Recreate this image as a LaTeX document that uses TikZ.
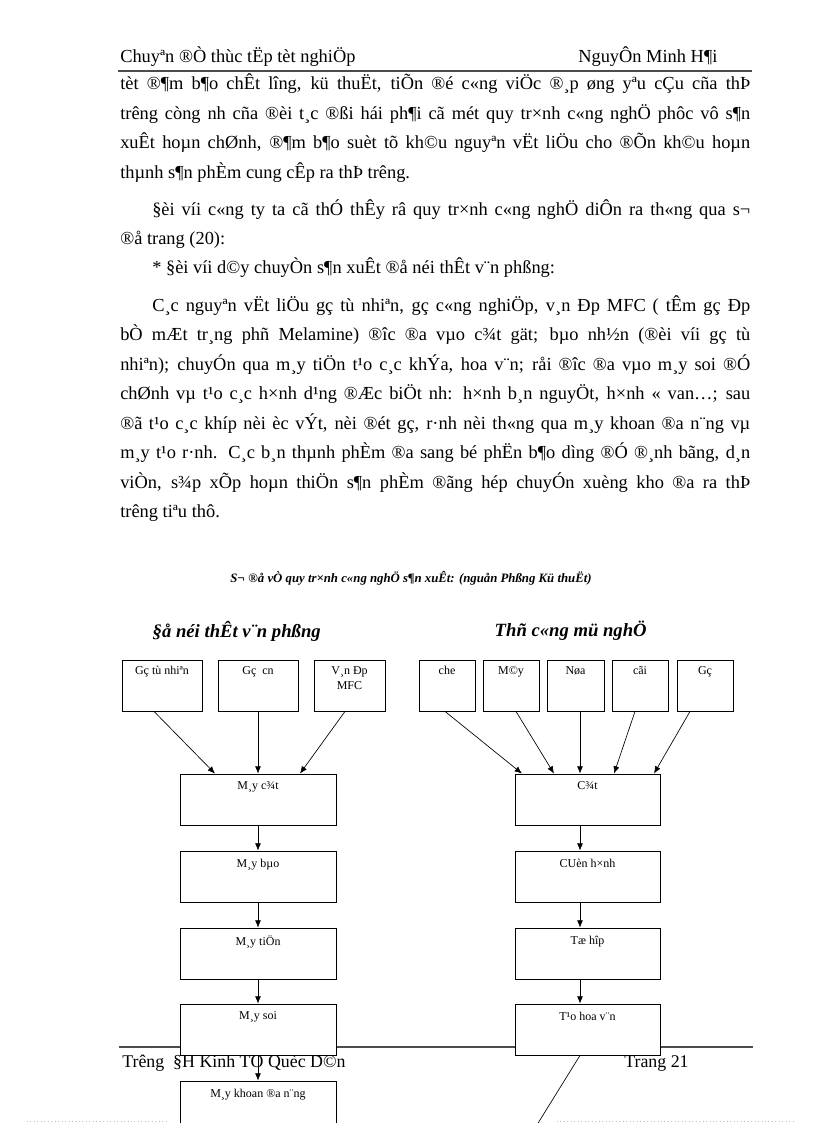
\documentclass[tikz,border=0pt]{standalone}
\usepackage{fontspec}
\setmainfont{Liberation Serif}
\usetikzlibrary{positioning,calc,arrows.meta}

\newcommand{\bodysize}{\fontsize{13.8}{16}\selectfont}
\newcommand{\boxsize}{\fontsize{9}{11}\selectfont}
\newcommand{\fullline}[2]{\hbox to #1{#2}}

\begin{document}
\begin{tikzpicture}[x=0.75pt, y=-0.75pt,
    txt/.style={anchor=base west, inner sep=0pt, font=\bodysize},
    rule/.style={line width=1.1pt, black!70},
    stepbox/.style={draw, fill=white, line width=0.6pt, minimum height=38.25pt, inner sep=0pt},
    boxlbl/.style={anchor=north, yshift=-6pt, inner sep=0pt, font=\boxsize, align=center},
    arr/.style={-{Latex[length=5.5pt,width=4.5pt]}, line width=0.5pt}]
    % Page
    \useasboundingbox (0,0) rectangle (816,1123);
    \fill[white] (0,0) rectangle (816,1123);

    % Header
    \node[txt] (headl) at (120,63) {Chuyªn ®Ò thùc tËp tèt nghiÖp};
    \node[txt] (headr) at (578,63) {NguyÔn Minh H¶i};
    \draw[rule] (118,71) -- (752,71);

    % Body text
    \node[txt] (l1) at (120,90) {\fullline{472.5pt}{tèt ®¶m b¶o chÊt lîng, kü thuËt, tiÕn ®é c«ng viÖc ®¸p øng yªu cÇu cña thÞ}};
    \node[txt] (l2) at (120,119.5) {\fullline{472.5pt}{trêng còng nh cña ®èi t¸c ®ßi hái ph¶i cã mét quy tr×nh c«ng nghÖ phôc vô s¶n}};
    \node[txt] (l3) at (120,149) {\fullline{472.5pt}{xuÊt hoµn chØnh, ®¶m b¶o suèt tõ kh©u nguyªn vËt liÖu cho ®Õn kh©u hoµn}};
    \node[txt] (l4) at (120,178.5) {thµnh s¶n phÈm cung cÊp ra thÞ trêng.};
    \node[txt] (l5) at (152,216) {\fullline{448.5pt}{§èi víi c«ng ty ta cã thÓ thÊy râ quy tr×nh c«ng nghÖ diÔn ra th«ng qua s¬}};
    \node[txt] (l6) at (120,244) {®å trang (20):};
    \node[txt] (l7) at (152,273) {* §èi víi d©y chuyÒn s¶n xuÊt ®å néi thÊt v¨n phßng:};
    \node[txt] (l8) at (152,311) {\fullline{448.5pt}{C¸c nguyªn vËt liÖu gç tù nhiªn, gç c«ng nghiÖp, v¸n Ðp MFC ( tÊm gç Ðp}};
    \node[txt] (l9) at (120,340.5) {\fullline{472.5pt}{bÒ mÆt tr¸ng phñ Melamine) ®îc ®a vµo c¾t gät; bµo nh½n (®èi víi gç tù}};
    \node[txt] (l10) at (120,370) {\fullline{472.5pt}{nhiªn); chuyÓn qua m¸y tiÖn t¹o c¸c khÝa, hoa v¨n; råi ®îc ®a vµo m¸y soi ®Ó}};
    \node[txt] (l11) at (120,399.5) {\fullline{472.5pt}{chØnh vµ t¹o c¸c h×nh d¹ng ®Æc biÖt nh: h×nh b¸n nguyÖt, h×nh « van…; sau}};
    \node[txt] (l12) at (120,429) {\fullline{472.5pt}{®ã t¹o c¸c khíp nèi èc vÝt, nèi ®ét gç, r·nh nèi th«ng qua m¸y khoan ®a n¨ng vµ}};
    \node[txt] (l13) at (120,458.5) {\fullline{472.5pt}{m¸y t¹o r·nh. C¸c b¸n thµnh phÈm ®a sang bé phËn b¶o dìng ®Ó ®¸nh bãng, d¸n}};
    \node[txt] (l14) at (120,488) {\fullline{472.5pt}{viÒn, s¾p xÕp hoµn thiÖn s¶n phÈm ®ãng hép chuyÓn xuèng kho ®a ra thÞ}};
    \node[txt] (l15) at (120,517.5) {trêng tiªu thô.};

    % Caption and column titles
    \node[font=\bfseries\itshape\fontsize{9.6}{12}\selectfont] (caption) at (411,578) {S¬ ®å vÒ quy tr×nh c«ng nghÖ s¶n xuÊt: (nguån Phßng Kü thuËt)};
    \node[anchor=west, font=\bfseries\itshape\fontsize{14}{16}\selectfont] (titlel) at (148,631) {§å néi thÊt v¨n phßng};
    \node[anchor=west, font=\bfseries\itshape\fontsize{14}{16}\selectfont] (titler) at (490,631) {Thñ c«ng mü nghÖ};

    % Footer
    \draw[rule] (119,1047) -- (753,1047);
    \node[txt, font=\fontsize{13.4}{16}\selectfont] (footl) at (122,1067) {Trêng~~§H Kinh TÕ Quèc D©n};
    \node[txt, font=\fontsize{13.4}{16}\selectfont] (footr) at (624,1067) {Trang 21};
    \draw[black!25, dotted, line width=0.6pt] (27,1121) -- (168,1121);
    \draw[black!25, dotted, line width=0.6pt] (557,1121) -- (795,1121);

    % Raw materials, left line
    \node[stepbox, minimum width=60pt, label={[boxlbl, yshift=1pt]north:Gç tù nhiªn}] (gotn) at (162,685.5) {};
    \node[stepbox, minimum width=60pt, label={[boxlbl, yshift=1pt]north:Gç~~cn}] (gocn) at (258,685.5) {};
    \node[stepbox, minimum width=53.25pt, label={[boxlbl, yshift=1pt]north:V¸n Ðp\\MFC}] (vanep) at (349.5,685.5) {};

    % Raw materials, right line
    \node[stepbox, minimum width=42pt, label={[boxlbl, yshift=1pt]north:che}] (che) at (447,685.5) {};
    \node[stepbox, minimum width=42pt, label={[boxlbl, yshift=1pt]north:M©y}] (may) at (511,685.5) {};
    \node[stepbox, minimum width=42.75pt, label={[boxlbl, yshift=1pt]north:Nøa}] (nua) at (575.5,685.5) {};
    \node[stepbox, minimum width=42pt, label={[boxlbl, yshift=1pt]north:cãi}] (coi) at (640,685.5) {};
    \node[stepbox, minimum width=42pt, label={[boxlbl, yshift=1pt]north:Gç}] (go) at (705,685.5) {};

    % Machines, left line
    \node[stepbox, minimum width=117pt, label={[boxlbl]north:M¸y c¾t}] (maycat) at (258,799.5) {};
    \node[stepbox, minimum width=117pt, label={[boxlbl]north:M¸y bµo}] (maybao) at (258,876.5) {};
    \node[stepbox, minimum width=117pt, label={[boxlbl]north:M¸y tiÖn}] (maytien) at (258,953.5) {};
    \node[stepbox, minimum width=117pt, label={[boxlbl]north:M¸y soi}] (maysoi) at (258,1029.5) {};
    \node[stepbox, minimum width=117pt, label={[boxlbl]north:M¸y khoan ®a n¨ng}] (maykhoan) at (258,1106.5) {};

    % Steps, right line
    \node[stepbox, minimum width=108.75pt, label={[boxlbl]north:C¾t}] (cat) at (587.5,799.5) {};
    \node[stepbox, minimum width=108.75pt, label={[boxlbl]north:CUèn h×nh}] (cuon) at (587.5,876.5) {};
    \node[stepbox, minimum width=108.75pt, label={[boxlbl]north:Tæ hîp}] (tohop) at (587.5,953.5) {};
    \node[stepbox, minimum width=108.75pt, label={[boxlbl]north:T¹o hoa v¨n}] (taohoa) at (587.5,1029.5) {};

    % Inputs into the first machines
    \draw[arr] ($(gotn.south)+(-8,0)$) -- ($(maycat.north)+(-43,0)$);
    \draw[arr] (gocn.south) -- (maycat.north);
    \draw[arr] ($(vanep.south)+(-4.5,0)$) -- ($(maycat.north)+(42,0)$);
    \draw[arr] ($(che.south)+(-2,0)$) -- ($(cat.north)+(-65.5,0)$);
    \draw[arr] ($(may.south)+(5,0)$) -- ($(cat.north)+(-33.5,0)$);
    \draw[arr] ($(nua.south)+(4.5,0)$) -- ($(cat.north)+(-7.5,0)$);
    \draw[arr] ($(coi.south)+(-5,0)$) -- ($(cat.north)+(26.5,0)$);
    \draw[arr] ($(go.south)+(-15,0)$) -- ($(cat.north)+(66.5,0)$);

    % Left chain
    \draw[arr] (maycat) -- (maybao);
    \draw[arr] (maybao) -- (maytien);
    \draw[arr] (maytien) -- (maysoi);
    \draw[arr] (maysoi) -- (maykhoan);

    % Right chain
    \draw[arr] ($(cat.south)+(-7.5,0)$) -- ($(cuon.north)+(-7.5,0)$);
    \draw[arr] ($(cuon.south)+(-7.5,0)$) -- ($(tohop.north)+(-7.5,0)$);
    \draw[arr] ($(tohop.south)+(-7.5,0)$) -- ($(taohoa.north)+(-7.5,0)$);
    \coordinate (tail) at (535,1128);
    \draw[line width=0.5pt] ($(taohoa.south)+(-7.5,0)$) -- (tail);
\end{tikzpicture}
\end{document}
